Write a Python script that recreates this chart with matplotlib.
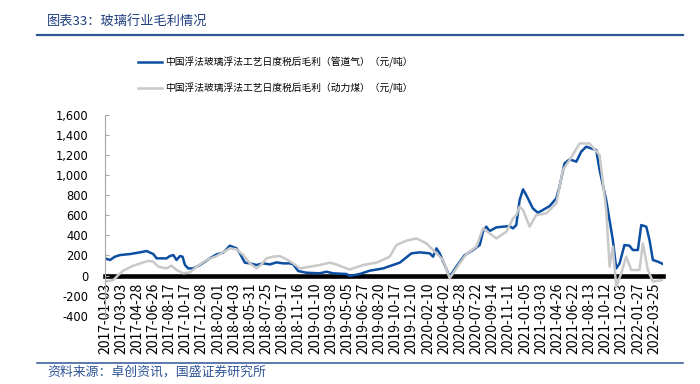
import numpy as np
import matplotlib
matplotlib.use("Agg")
import matplotlib.pyplot as plt
from matplotlib.lines import Line2D

plt.rcParams['font.family'] = ['Noto Sans CJK SC', 'DejaVu Sans']

# 横轴日期标签（每个标签间隔约40个交易日）
date_labels = [
    "2017-01-03", "2017-03-03", "2017-04-28", "2017-06-26", "2017-08-17",
    "2017-10-17", "2017-12-08", "2018-02-01", "2018-04-03", "2018-05-31",
    "2018-07-25", "2018-09-17", "2018-11-16", "2019-01-10", "2019-03-08",
    "2019-05-05", "2019-06-27", "2019-08-20", "2019-10-17", "2019-12-10",
    "2020-02-10", "2020-04-02", "2020-05-28", "2020-07-22", "2020-09-14",
    "2020-11-11", "2021-01-05", "2021-03-03", "2021-04-26", "2021-06-22",
    "2021-08-13", "2021-10-12", "2021-12-03", "2022-01-27", "2022-03-25",
]

# 管道气：位置（以日期标签为单位）与毛利（元/吨）
gas_pos = [0.00, 0.31, 0.62, 0.93, 1.55, 2.16, 2.58, 2.99, 3.20, 3.81,
           4.02, 4.23, 4.43, 4.64, 4.80, 4.95, 5.15, 5.46, 5.88, 6.49,
           6.91, 7.32, 7.73, 8.14, 8.35, 8.66, 8.97, 9.38, 9.79, 10.21,
           10.62, 11.03, 11.44, 11.65, 11.96, 12.47, 13.30, 13.71, 14.12, 14.95,
           15.15, 15.77, 16.39, 17.22, 18.25, 18.97, 19.48, 20.10, 20.31, 20.52,
           20.72, 21.03, 21.34, 21.75, 22.27, 22.78, 23.20, 23.40, 23.61, 23.81,
           24.23, 24.64, 25.05, 25.26, 25.46, 25.67, 25.88, 26.08, 26.49, 26.80,
           27.11, 27.53, 27.94, 28.14, 28.45, 28.76, 29.18, 29.48, 29.79, 30.41,
           30.62, 31.03, 31.44, 31.65, 31.86, 32.16, 32.47, 32.68, 32.99, 33.20,
           33.51, 33.71, 33.92, 34.23, 34.54]
gas_val = [171, 155, 188, 204, 214, 231, 244, 214, 171, 171,
           194, 204, 155, 194, 188, 105, 71, 71, 105, 171,
           211, 228, 297, 271, 221, 128, 121, 105, 121, 111,
           131, 121, 121, 111, 45, 28, 22, 38, 22, 15,
           -5, 15, 48, 71, 128, 221, 231, 221, 188, 271,
           221, 105, -12, 88, 204, 254, 304, 437, 487, 443,
           480, 487, 493, 470, 503, 752, 859, 802, 669, 626,
           653, 693, 769, 886, 1118, 1158, 1135, 1234, 1284, 1251,
           1052, 752, 354, 71, 121, 304, 297, 254, 254, 503,
           487, 354, 155, 138, 115]

# 动力煤
coal_pos = [0.00, 0.52, 0.82, 1.13, 1.75, 2.37, 2.68, 2.99, 3.30, 3.81,
            4.12, 4.43, 4.85, 5.26, 5.67, 6.29, 6.91, 7.73, 8.14, 8.56,
            8.97, 9.38, 9.69, 10.00, 10.41, 10.82, 11.24, 11.65, 12.06, 12.68,
            13.30, 13.92, 14.33, 14.95, 15.15, 15.98, 16.80, 17.63, 18.04, 18.66,
            19.28, 19.90, 20.21, 20.62, 20.93, 21.34, 21.96, 22.37, 22.99, 23.40,
            24.23, 24.85, 25.26, 25.46, 25.67, 25.88, 26.29, 26.70, 27.32, 27.94,
            28.35, 28.76, 29.38, 29.99, 30.62, 31.03, 31.24, 31.44, 31.65, 31.96,
            32.27, 32.58, 33.09, 33.30, 33.61, 33.92, 34.54]
coal_val = [-61, -45, 5, 48, 98, 131, 145, 138, 88, 71,
            98, 55, 22, 32, 88, 155, 194, 271, 261, 204,
            121, 71, 111, 171, 188, 194, 161, 121, 71, 88,
            105, 128, 110, 71, 60, 105, 128, 188, 304, 347,
            370, 320, 271, 204, 155, -28, 121, 214, 287, 470,
            370, 437, 570, 603, 686, 653, 487, 603, 620, 719,
            1052, 1151, 1317, 1317, 1201, 653, 88, 287, -111, 22,
            188, 55, 55, 320, 55, -61, -45]

gas_label = "中国浮法玻璃浮法工艺日度税后毛利（管道气）（元/吨）"
coal_label = "中国浮法玻璃浮法工艺日度税后毛利（动力煤）（元/吨）"

fig = plt.figure(figsize=(7, 3.84), dpi=100)
ax = fig.add_axes([0.15, 0.178, 0.797, 0.5225])

ax.plot(gas_pos, gas_val, color='#0B4EA2', linewidth=1.8, label=gas_label)
ax.plot(coal_pos, coal_val, color='#C8C8C8', linewidth=1.8, label=coal_label)

ax.set_xlim(0, 34.54)
ax.set_ylim(-400, 1600)
ax.set_yticks(np.arange(-400, 1601, 200))
ax.set_yticklabels([f"{v:,}" for v in range(-400, 1601, 200)],
                   family='DejaVu Sans', fontsize=8.3)
ax.set_xticks(range(len(date_labels)))
ax.set_xticklabels(date_labels, family='DejaVu Sans', fontsize=8.3)

# 零轴加粗，标签贴在零轴下方
ax.spines['bottom'].set_position(('data', 0))
ax.spines['bottom'].set_linewidth(3.3)
ax.spines['bottom'].set_color('black')
ax.spines['bottom'].set_zorder(1)
ax.spines['top'].set_visible(False)
ax.spines['right'].set_visible(False)
ax.spines['left'].set_color('#A6A6A6')
ax.spines['left'].set_linewidth(0.8)
ax.tick_params(axis='x', length=0, pad=5, labelrotation=90)
ax.tick_params(axis='y', direction='in', length=3, color='#A6A6A6', pad=12)

fig.legend(loc='upper left', bbox_to_anchor=(0.197, 0.852), frameon=False,
           fontsize=7.0, handlelength=2.5, handletextpad=0.3, labelspacing=1.55,
           borderpad=0, borderaxespad=0)

# 标题与来源
fig.text(0.067, 0.943, "图表33：玻璃行业毛利情况", fontsize=9.5, color='#1F3F7F',
         va='center', ha='left', style='italic')
fig.text(0.068, 0.032, "资料来源：卓创资讯，国盛证券研究所", fontsize=9.3, color='#2F5597',
         va='center', ha='left', style='italic')
fig.add_artist(Line2D([0.053, 0.976], [0.910, 0.910], color='#2F5597', linewidth=1.6,
                      transform=fig.transFigure))
fig.add_artist(Line2D([0.053, 0.976], [0.054, 0.054], color='#2F5597', linewidth=1.1,
                      transform=fig.transFigure))

fig.savefig("out.png", dpi=100)
